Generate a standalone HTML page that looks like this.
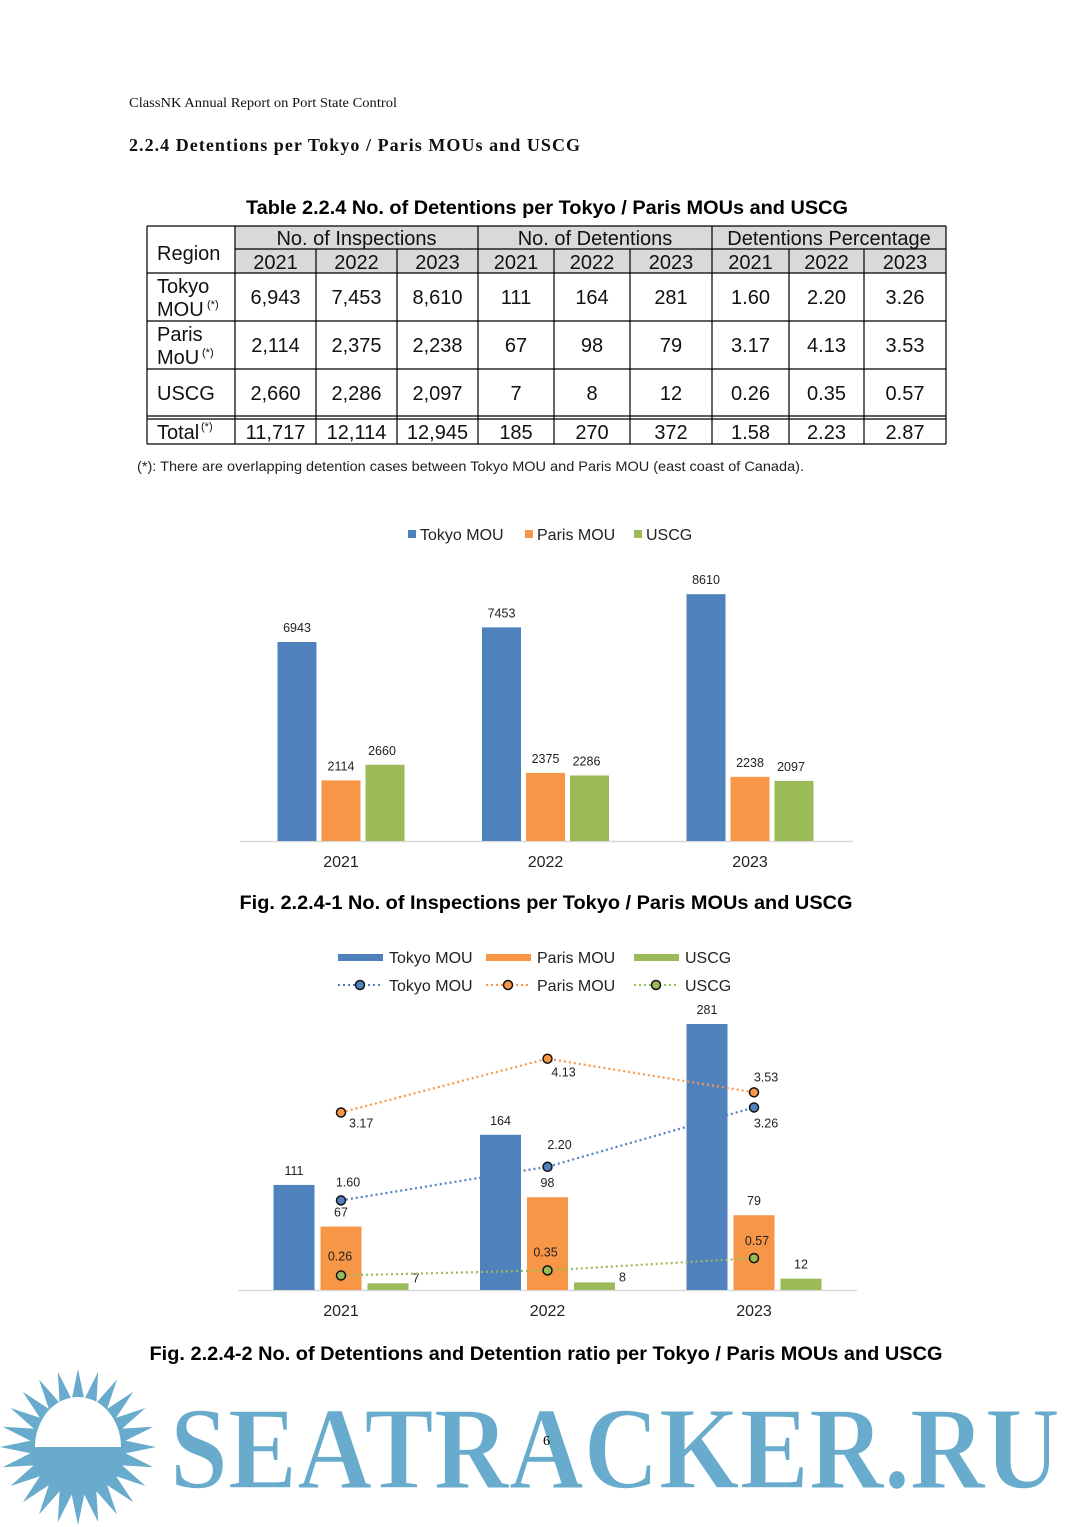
<!DOCTYPE html>
<html><head><meta charset="utf-8">
<style>
html,body{margin:0;padding:0;background:#fff;}
svg{display:block;font-family:"Liberation Sans",sans-serif;}
.serif{font-family:"Liberation Serif",serif;}
</style></head>
<body>
<svg id="page" width="1080" height="1527" viewBox="0 0 1080 1527" xmlns="http://www.w3.org/2000/svg">
<rect width="1080" height="1527" fill="#fff"/>
<text class="serif" x="129" y="107" font-size="14" fill="#111" textLength="268" lengthAdjust="spacingAndGlyphs">ClassNK Annual Report on Port State Control</text>
<text class="serif" x="129" y="151" font-size="18" font-weight="bold" fill="#111" textLength="451" lengthAdjust="spacing">2.2.4  Detentions per Tokyo / Paris MOUs and USCG</text>
<text x="547" y="214" font-size="19.5" font-weight="bold" text-anchor="middle" fill="#000" textLength="602" lengthAdjust="spacingAndGlyphs">Table 2.2.4 No. of Detentions per Tokyo / Paris MOUs and USCG</text>
<g id="table"></g>
<text x="137" y="471" font-size="14" fill="#222" textLength="667" lengthAdjust="spacingAndGlyphs">(*): There are overlapping detention cases between Tokyo MOU and Paris MOU (east coast of Canada).</text>
<g id="chart1"></g>
<text x="546" y="909" font-size="19.5" font-weight="bold" text-anchor="middle" fill="#000" textLength="613" lengthAdjust="spacingAndGlyphs">Fig. 2.2.4-1 No. of Inspections per Tokyo / Paris MOUs and USCG</text>
<g id="chart2"></g>
<text x="546" y="1360" font-size="19.5" font-weight="bold" text-anchor="middle" fill="#000" textLength="793" lengthAdjust="spacingAndGlyphs">Fig. 2.2.4-2 No. of Detentions and Detention ratio per Tokyo / Paris MOUs and USCG</text>
<g>
  <g id="sun"></g>
  <text x="170" y="1488" font-family="Liberation Serif,serif" font-weight="bold" font-size="118" fill="#68abcc" stroke="#fff" stroke-width="1.5" textLength="890" lengthAdjust="spacingAndGlyphs">SEATRACKER.RU</text>
  <text class="serif" x="543" y="1445" font-size="14" fill="#000">6</text>
</g>
</svg>
<script>
const NS="http://www.w3.org/2000/svg";
function mk(parent,tag,attrs,txt){const e=document.createElementNS(NS,tag);for(const k in attrs)e.setAttribute(k,attrs[k]);if(txt!==undefined)e.textContent=txt;parent.appendChild(e);return e;}

/* ---------- TABLE ---------- */
const tableYears=["2021","2022","2023"];
const tableGroups=["No. of Inspections","No. of Detentions","Detentions Percentage"];
const tableRows=[
 ["Tokyo","MOU","6,943","7,453","8,610","111","164","281","1.60","2.20","3.26"],
 ["Paris","MoU","2,114","2,375","2,238","67","98","79","3.17","4.13","3.53"],
 ["USCG","","2,660","2,286","2,097","7","8","12","0.26","0.35","0.57"],
 ["Total","","11,717","12,114","12,945","185","270","372","1.58","2.23","2.87"]
];
(function(){
 const t=document.getElementById('table');
 const cx=[147,235,316,397,478,554,630,712,789,864,946];
 let r=mk(t,'rect',{x:235,y:226,width:711,height:47,fill:'#d9d9d9'});
 
 const L=(x1,y1,x2,y2,w)=>mk(t,'line',{x1,y1,x2,y2,stroke:'#000','stroke-width':w||1.2});
 L(147,226,946,226);L(147,444,946,444);L(147,226,147,444);L(946,226,946,444);
 L(235,249,946,249);L(147,273,946,273);L(147,321,946,321);L(147,369,946,369);
 L(147,416,946,416);L(147,419,946,419);
 for(let i=1;i<cx.length-1;i++){const x=cx[i];const major=(i==1||i==4||i==7);L(x,major?226:249,x,444);}
 const T=(x,y,s,anchor,fs,name)=>{const e=mk(t,'text',{x,y,'font-size':fs||20,'text-anchor':anchor||'middle',fill:'#111'},s);return e;};
 T(157,260,'Region','start',20,'region-header');
 tableGroups.forEach((g,i)=>T((cx[1+i*3]+cx[4+i*3])/2,245,g,'middle',20,'group-header'));
 for(let c=0;c<9;c++)T((cx[c+1]+cx[c+2])/2,269,tableYears[c%3],'middle',20,'year-header');
 const mids=[297,345,393,432];
 tableRows.forEach((row,ri)=>{
  const m=mids[ri];
  if(row[1]){T(157,m-4,row[0],'start',20,'region-name');T(157,m+19,row[1],'start',20,'region-name');
    T(157+(row[1]=='MOU'?50:45),m+11,'(*)','start',11,'footnote-mark');}
  else if(ri==3){T(157,m+7,row[0],'start',20,'region-name');T(201,m-2,'(*)','start',11,'footnote-mark');}
  else T(157,m+7,row[0],'start',20,'region-name');
  for(let c=0;c<9;c++)T((cx[c+1]+cx[c+2])/2,m+7,row[c+2],'middle',20,'table-value');
 });
})();

/* ---------- CHART 1 ---------- */
const c1Years=["2021","2022","2023"];
const c1Series=["Tokyo MOU","Paris MOU","USCG"];
const c1Tokyo=[6943,7453,8610];
const c1Paris=[2114,2375,2238];
const c1USCG=[2660,2286,2097];
const colors=["#4f81bd","#f79646","#9bbb59"];
(function(){
 const g=document.getElementById('chart1');
 const base=841, scale=246.8/8610;
 const y=v=>base-v*scale;
 const xc=i=>341+i*204.5;
 const bw=39, off=[-44,0,44];
 const data=[c1Tokyo,c1Paris,c1USCG];
 let ax=mk(g,'line',{x1:240,y1:base+0.5,x2:853,y2:base+0.5,stroke:'#d9d9d9','stroke-width':1.5});
 
 data.forEach((arr,s)=>arr.forEach((v,i)=>{
  const x=xc(i)+off[s]-bw/2;
  const b=mk(g,'rect',{x,y:y(v),width:bw,height:base-y(v),fill:colors[s]});
  
  
  const l=mk(g,'text',{x:x+bw/2+(s==2?-3:0),y:y(v)-10,'font-size':12.5,'text-anchor':'middle',fill:'#222'},String(v));
  
 }));
 c1Years.forEach((yr,i)=>{const t=mk(g,'text',{x:xc(i),y:867,'font-size':16,'text-anchor':'middle',fill:'#222'},yr);
  });
 const lx=[408,525,634];
 c1Series.forEach((s,i)=>{
  const r=mk(g,'rect',{x:lx[i],y:530,width:8,height:8,fill:colors[i]});
  
  const t=mk(g,'text',{x:lx[i]+12,y:540,'font-size':16,fill:'#222'},s);
  
 });
})();

/* ---------- CHART 2 ---------- */
const c2Years=["2021","2022","2023"];
const c2Series=["Tokyo MOU","Paris MOU","USCG"];
const c2Tokyo=[111,164,281];
const c2Paris=[67,98,79];
const c2USCG=[7,8,12];
const c2TokyoRatio=[1.60,2.20,3.26];
const c2ParisRatio=[3.17,4.13,3.53];
const c2USCGRatio=[0.26,0.35,0.57];
(function(){
 const g=document.getElementById('chart2');
 const base=1290, scale=266/281, rscale=56.0;
 const y=v=>base-v*scale;
 const yr=v=>base-v*rscale;
 const xc=i=>341+i*206.5;
 const bw=41, off=[-47,0,47];
 const bars=[c2Tokyo,c2Paris,c2USCG];
 const ratios=[c2TokyoRatio,c2ParisRatio,c2USCGRatio];
 let ax=mk(g,'line',{x1:238,y1:base+0.5,x2:857,y2:base+0.5,stroke:'#d9d9d9','stroke-width':1.5});
 
 bars.forEach((arr,s)=>arr.forEach((v,i)=>{
  const x=xc(i)+off[s]-bw/2;
  const b=mk(g,'rect',{x,y:y(v),width:bw,height:base-y(v),fill:colors[s]});
  
  
  let lx=x+bw/2, ly=y(v)-10, anchor='middle';
  if(s==2 && i<2){lx=x+bw+4;ly=y(v)-1;anchor='start';}
  else if(s==2){ly=y(v)-10;}
  const l=mk(g,'text',{x:lx,y:ly,'font-size':12.5,'text-anchor':anchor,fill:'#222'},String(v));
  
 }));
 const lblOff=[[[7,-14],[12,-18],[12,20]],[[8,15],[16,18],[12,-11]],[[-1,-15],[-2,-14],[3,-13]]];
 ratios.forEach((arr,s)=>{
  const pts=arr.map((v,i)=>xc(i)+','+yr(v)).join(' ');
  const pl=mk(g,'polyline',{points:pts,fill:'none',stroke:colors[s],'stroke-width':2.2,'stroke-dasharray':'2 3'});
  
  
  arr.forEach((v,i)=>{
   const c=mk(g,'circle',{cx:xc(i),cy:yr(v),r:4.5,fill:colors[s],stroke:'#111','stroke-width':1.5});
   
   const o=lblOff[s][i];
   const t=mk(g,'text',{x:xc(i)+o[0],y:yr(v)+o[1],'font-size':12.5,'text-anchor':(s==1&&i==0)?'start':'middle',fill:'#222'},v.toFixed(2));
   
  });
 });
 c2Years.forEach((yy,i)=>{const t=mk(g,'text',{x:xc(i),y:1316,'font-size':16,'text-anchor':'middle',fill:'#222'},yy);
  });
 const lx=[338,486,634];
 c2Series.forEach((s,i)=>{
  const r=mk(g,'rect',{x:lx[i],y:954,width:45,height:7,fill:colors[i]});
  
  let t=mk(g,'text',{x:lx[i]+51,y:963,'font-size':16,fill:'#222'},s);
  
  const ln=mk(g,'line',{x1:lx[i],y1:985,x2:lx[i]+45,y2:985,stroke:colors[i],'stroke-width':2,'stroke-dasharray':'2 3'});
  
  const c=mk(g,'circle',{cx:lx[i]+22,cy:985,r:4.5,fill:colors[i],stroke:'#111','stroke-width':1.5});
  
  t=mk(g,'text',{x:lx[i]+51,y:991,'font-size':16,fill:'#222'},s);
  
 });
})();

/* ---------- WATERMARK SUN ---------- */
(function(){
 const g=document.getElementById('sun');
 const cx=78,cy=1447,R1=78,R2=48,n=24;let pts=[];
 for(let i=0;i<n*2;i++){const a=i*Math.PI/n;const r=i%2==0?R1:R2;pts.push((cx+r*Math.cos(a)).toFixed(1)+','+(cy+r*Math.sin(a)).toFixed(1));}
 mk(g,'polygon',{points:pts.join(' '),fill:'#68abcc'});
 mk(g,'path',{d:`M${cx-43},${cy} A43,50 0 0 1 ${cx+43},${cy} Z`,fill:'#fff'});
})();
</script>
</body></html>
